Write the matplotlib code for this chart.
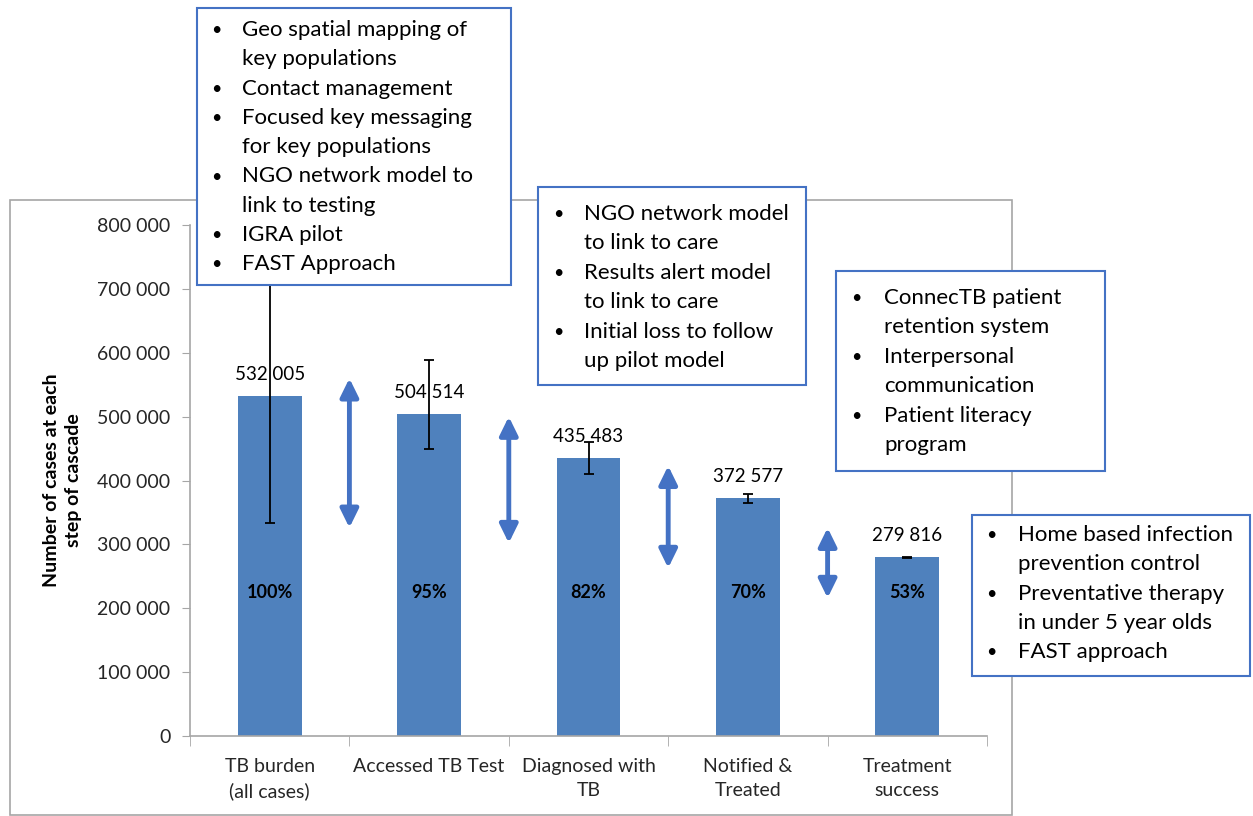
import matplotlib
matplotlib.use("Agg")
import matplotlib.pyplot as plt
from matplotlib.patches import Rectangle
from matplotlib.ticker import FuncFormatter, FixedLocator

plt.rcParams['font.family'] = ['Lato', 'DejaVu Sans']

categories = ["TB burden\n(all cases)", "Accessed TB Test", "Diagnosed with\nTB", "Notified &\nTreated", "Treatment\nsuccess"]
values = [532005, 504514, 435483, 372577, 279816]
percents = ["100%", "95%", "82%", "70%", "53%"]
err_low = [198500, 55000, 25000, 8000, 1000]
err_high = [198500, 84000, 25000, 6500, 1000]
arrow_top = [560000, 500000, 423000, 326000]
arrow_bottom = [326000, 302000, 263000, 216000]
y_ticks = [0, 100000, 200000, 300000, 400000, 500000, 600000, 700000, 800000]
y_label = "Number of cases at each\nstep of cascade"

box1 = ["Geo spatial mapping of", "key populations", "Contact management", "Focused key messaging",
        "for key populations", "NGO network model to", "link to testing", "IGRA pilot", "FAST Approach"]
box1_bullets = [True, False, True, True, False, True, False, True, True]
box2 = ["NGO network model", "to link to care", "Results alert model", "to link to care",
        "Initial loss to follow", "up pilot model"]
box2_bullets = [True, False, True, False, True, False]
box3 = ["ConnecTB patient", "retention system", "Interpersonal", "communication",
        "Patient literacy", "program"]
box3_bullets = [True, False, True, False, True, False]
box4 = ["Home based infection", "prevention control", "Preventative therapy",
        "in under 5 year olds", "FAST approach"]
box4_bullets = [True, False, True, False, True]

W, H = 1253, 816
fig = plt.figure(figsize=(W / 100, H / 100), dpi=100)
fig.patch.set_facecolor("white")

# outer chart frame
fig.patches.append(Rectangle((10 / W, 1 - 815 / H), (1012 - 10) / W, (815 - 200) / H,
                             transform=fig.transFigure, fill=False, edgecolor="#A6A6A6", lw=1.2, zorder=0))

ax = fig.add_axes([190 / W, 1 - 736 / H, (987 - 190) / W, (736 - 225) / H])
x = list(range(len(values)))
bar_color = "#4F81BD"
ax.bar(x, values, width=0.4, color=bar_color, zorder=2)
ax.errorbar(x, values, yerr=[err_low, err_high], fmt="none", ecolor="black",
            elinewidth=1.3, capsize=3.3, capthick=1.3, zorder=4)

for xi, v in zip(x, values):
    ax.annotate(f"{v:,}".replace(",", " "), (xi, v), xytext=(0, 15.5), textcoords="offset points",
                ha="center", va="center", fontsize=13.5, color="black", zorder=3)
for xi, p in zip(x, percents):
    ax.text(xi, 225000, p, ha="center", va="center", fontsize=13, fontweight="bold", color="black", zorder=3)

arrow_color = "#4472C4"
for i, (t, b) in enumerate(zip(arrow_top, arrow_bottom)):
    ax.annotate("", xy=(i + 0.5, t), xytext=(i + 0.5, b),
                arrowprops=dict(arrowstyle="<|-|>,head_length=0.55,head_width=0.27", color=arrow_color,
                                lw=3.5, shrinkA=0, shrinkB=0, mutation_scale=20), zorder=3)

ax.set_xlim(-0.5, 4.5)
ax.set_ylim(0, 800000)
ax.set_yticks(y_ticks)
ax.yaxis.set_major_formatter(FuncFormatter(lambda v, p: f"{int(v):,}".replace(",", " ")))
ax.set_xticks(x)
ax.set_xticklabels(categories, linespacing=1.45)
ax.xaxis.set_minor_locator(FixedLocator([-0.5, 0.5, 1.5, 2.5, 3.5, 4.5]))
ax.tick_params(axis="x", which="major", length=0, pad=16, labelsize=14, labelcolor="#262626")
ax.tick_params(axis="x", which="minor", length=7, color="#A6A6A6", direction="out")
ax.tick_params(axis="y", length=6, color="#A6A6A6", labelsize=14, labelcolor="#262626", pad=8)
for s in ["top", "right"]:
    ax.spines[s].set_visible(False)
for s in ["left", "bottom"]:
    ax.spines[s].set_color("#A6A6A6")
    ax.spines[s].set_linewidth(1.2)
ax.set_ylabel(y_label, fontsize=14, fontweight="bold", labelpad=11, linespacing=1.35)
ax.set_facecolor("none")

def draw_box(x0, y0, x1, y1, lines, bullets, bx, tx, ly0, dy):
    fig.patches.append(Rectangle((x0 / W, 1 - y1 / H), (x1 - x0) / W, (y1 - y0) / H,
                                 transform=fig.transFigure, facecolor="white", edgecolor="#4472C4",
                                 lw=1.5, zorder=5))
    for k, (ln, bl) in enumerate(zip(lines, bullets)):
        yy = 1 - (ly0 + k * dy) / H
        if bl:
            fig.text(bx / W, yy, "\u2022", ha="left", va="center", fontsize=13, color="black", zorder=6)
        fig.text(tx / W, yy, ln, ha="left", va="center", fontsize=16, color="black", zorder=6)

draw_box(197, 8, 511, 285, box1, box1_bullets, 211, 242, 30, 29.3)
draw_box(538, 187, 806, 385, box2, box2_bullets, 553, 584, 214, 29.4)
draw_box(836, 271, 1105, 471, box3, box3_bullets, 851, 884, 298, 29.4)
draw_box(972, 515, 1250, 676, box4, box4_bullets, 986, 1018, 535, 29.3)

fig.savefig("out.png", dpi=100)
